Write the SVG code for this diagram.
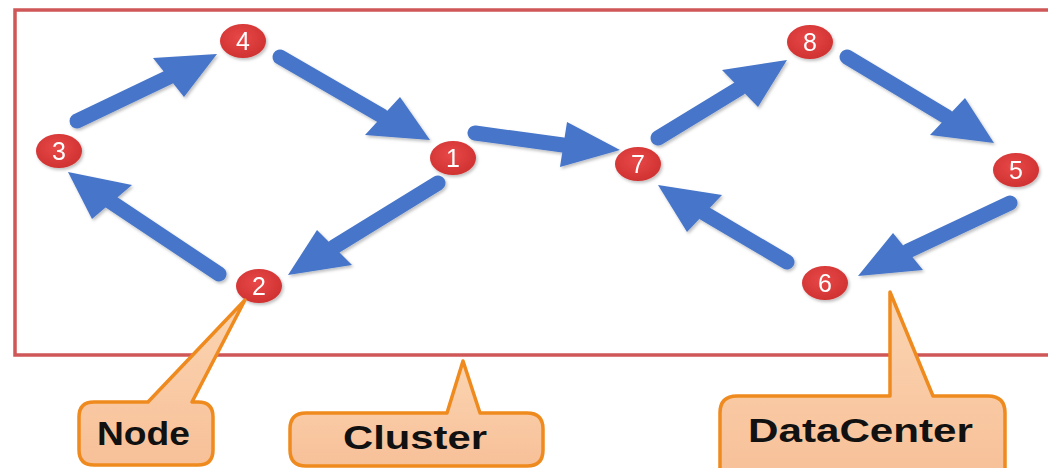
<svg xmlns="http://www.w3.org/2000/svg" width="1048" height="468" viewBox="0 0 1048 468">
<defs>
<style>
.shaft{stroke:#4675c9;stroke-width:15;stroke-linecap:round;fill:none}
.head{fill:#4675c9}
.node{fill:url(#nodeGrad)}
.num{font-family:"Liberation Sans",Arial,sans-serif;font-size:25px;fill:#ffffff;text-anchor:middle}
.callout{fill:url(#callGrad);stroke:#ef8a1e;stroke-width:3.5;stroke-linejoin:round}
.ctext{font-family:"Liberation Sans",Arial,sans-serif;font-weight:bold;font-size:33px;fill:#111111}
</style>
<radialGradient id="nodeGrad" cx="0.45" cy="0.4" r="0.7">
<stop offset="0" stop-color="#e84848"/>
<stop offset="1" stop-color="#cc2e2e"/>
</radialGradient>
<linearGradient id="callGrad" x1="0" y1="0" x2="0" y2="1">
<stop offset="0" stop-color="#fbd5b2"/>
<stop offset="1" stop-color="#f7c098"/>
</linearGradient>
<filter id="sh" x="-20%" y="-20%" width="140%" height="140%">
<feDropShadow dx="1.5" dy="2" stdDeviation="1.5" flood-color="#000" flood-opacity="0.25"/>
</filter>
</defs>
<rect width="1048" height="468" fill="#ffffff"/>
<g id="cluster-frame">
<path d="M1060,10 H15 V355 H1060" fill="none" stroke="#d05757" stroke-width="3.5"/>
</g>
<g id="connectors" filter="url(#sh)">
<g id="e3-4"><line class="shaft" x1="77" y1="121" x2="169" y2="77"/><polygon class="head" points="217,54 153,58 184,97"/></g>
<g id="e4-1"><line class="shaft" x1="280" y1="57" x2="382" y2="116"/><polygon class="head" points="430,140 400,97 365,135"/></g>
<g id="e1-2"><line class="shaft" x1="438" y1="183" x2="334" y2="247"/><polygon class="head" points="288,275 317,230 352,265"/></g>
<g id="e2-3"><line class="shaft" x1="219" y1="274" x2="108" y2="200"/><polygon class="head" points="68,172 132,185 92,219"/></g>
<g id="e1-7"><line class="shaft" x1="475" y1="133" x2="563" y2="145"/><polygon class="head" points="620,150 567,122 560,167"/></g>
<g id="e7-8"><line class="shaft" x1="658" y1="138" x2="740" y2="88"/><polygon class="head" points="787,60 722,70 758,107"/></g>
<g id="e8-5"><line class="shaft" x1="847" y1="57" x2="947" y2="117"/><polygon class="head" points="994,143 965,98 930,135"/></g>
<g id="e5-6"><line class="shaft" x1="1010" y1="203" x2="908" y2="251"/><polygon class="head" points="858,276 893,233 923,270"/></g>
<g id="e6-7"><line class="shaft" x1="787" y1="262" x2="704" y2="213"/><polygon class="head" points="658,185 722,195 687,232"/></g>
</g>
<g id="n4" filter="url(#sh)"><ellipse class="node" cx="243" cy="41" rx="23" ry="17"/><text class="num" x="243" y="50">4</text></g>
<g id="n3" filter="url(#sh)"><ellipse class="node" cx="59" cy="151" rx="23" ry="17"/><text class="num" x="59" y="160">3</text></g>
<g id="n1" filter="url(#sh)"><ellipse class="node" cx="453" cy="158" rx="23" ry="17"/><text class="num" x="453" y="167">1</text></g>
<g id="n2" filter="url(#sh)"><ellipse class="node" cx="259" cy="286" rx="23" ry="17"/><text class="num" x="259" y="295">2</text></g>
<g id="n7" filter="url(#sh)"><ellipse class="node" cx="638" cy="164" rx="23" ry="17"/><text class="num" x="638" y="173">7</text></g>
<g id="n8" filter="url(#sh)"><ellipse class="node" cx="810" cy="42" rx="23" ry="17"/><text class="num" x="810" y="51">8</text></g>
<g id="n5" filter="url(#sh)"><ellipse class="node" cx="1016" cy="170" rx="23" ry="17"/><text class="num" x="1016" y="179">5</text></g>
<g id="n6" filter="url(#sh)"><ellipse class="node" cx="825" cy="283" rx="23" ry="17"/><text class="num" x="825" y="292">6</text></g>
<g id="callout-node">
<path class="callout" d="M94,402 H148 L245,300 L192,402 H198 Q213,402 213,417 V450 Q213,465 198,465 H94 Q79,465 79,450 V417 Q79,402 94,402 Z"/>
<text class="ctext" x="97" y="445" textLength="93" lengthAdjust="spacingAndGlyphs">Node</text>
</g>
<g id="callout-cluster">
<path class="callout" d="M306,413 H447 L463,361 L480,413 H527 Q543,413 543,429 V450 Q543,466 527,466 H306 Q290,466 290,450 V429 Q290,413 306,413 Z"/>
<text class="ctext" x="343" y="449" textLength="144" lengthAdjust="spacingAndGlyphs">Cluster</text>
</g>
<g id="callout-datacenter">
<path class="callout" d="M737,396 H890 V292 L933,396 H988 Q1005,396 1005,413 V480 H720 V413 Q720,396 737,396 Z"/>
<text class="ctext" x="748" y="442" textLength="225" lengthAdjust="spacingAndGlyphs">DataCenter</text>
</g>
</svg>
